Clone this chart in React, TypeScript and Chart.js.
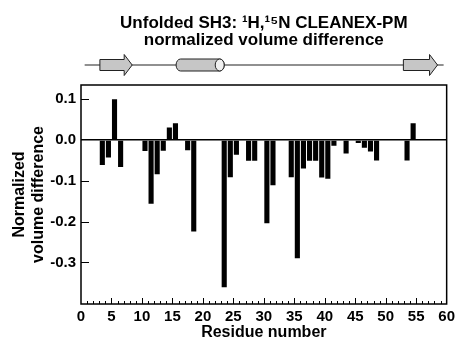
import React, { useEffect, useRef } from 'react';
import { Chart, registerables } from 'chart.js';

Chart.register(...registerables);

// ---- data ----
const residues = [3, 4, 5, 6, 10, 11, 12, 13, 14, 15, 17, 18, 23, 24, 25, 27, 28, 30, 31, 34, 35, 36, 37, 38, 39, 40, 41, 43, 45, 46, 47, 48, 53, 54];
const values = [-0.061, -0.043, 0.100, -0.066, -0.027, -0.156, -0.084, -0.026, 0.031, 0.041, -0.025, -0.224, -0.361, -0.091, -0.036, -0.051, -0.051, -0.204, -0.111, -0.091, -0.290, -0.070, -0.051, -0.051, -0.092, -0.095, -0.014, -0.033, -0.007, -0.019, -0.028, -0.050, -0.050, 0.041];
const xTickValues = [0, 5, 10, 15, 20, 25, 30, 35, 40, 45, 50, 55, 60];
const yTickValues = [-0.3, -0.2, -0.1, 0.0, 0.1];
const titleLines = ['Unfolded SH3: \u00B9H,\u00B9\u2075N CLEANEX-PM', 'normalized volume difference'];
const yTitleLines = ['Normalized', 'volume difference'];
const xTitle = 'Residue number';
// secondary structure cartoon (residue units)
const ssTypes = ['strand', 'helix', 'strand'];
const ssStart = [3.1, 15.6, 52.9];
const ssEnd = [8.4, 23.5, 58.5];
const ssLine = [0.6, 59.5];

const FONT = '"Liberation Sans", Arial, Helvetica, sans-serif';

const overlayPlugin = {
  id: 'overlay',
  afterDraw(chart: any) {
    const { ctx, chartArea, scales } = chart;
    const { left, right, top, bottom } = chartArea;
    const x = scales.x;
    const y = scales.y;
    ctx.save();
    // inward x ticks (minor every residue, major every 5)
    ctx.strokeStyle = '#000';
    ctx.lineWidth = 1;
    for (let v = 1; v < 60; v++) {
      const px = Math.round(x.getPixelForValue(v)) + 0.5;
      const len = v % 5 === 0 ? 6 : 3;
      ctx.beginPath();
      ctx.moveTo(px, bottom);
      ctx.lineTo(px, bottom - len);
      ctx.stroke();
    }
    // inward y ticks
    yTickValues.forEach((v) => {
      if (v === 0) return;
      const py = Math.round(y.getPixelForValue(v)) + 0.5;
      ctx.beginPath();
      ctx.moveTo(left, py);
      ctx.lineTo(left + 8, py);
      ctx.stroke();
    });
    // frame
    ctx.lineWidth = 1.5;
    ctx.strokeRect(left, top, right - left, bottom - top);

    // secondary structure cartoon
    const cy = top - 20;
    ctx.lineWidth = 1.2;
    ctx.strokeStyle = '#222';
    ctx.beginPath();
    ctx.moveTo(x.getPixelForValue(ssLine[0]), cy);
    ctx.lineTo(x.getPixelForValue(ssLine[1]), cy);
    ctx.stroke();
    ctx.fillStyle = '#c6c6c6';
    ctx.lineWidth = 1;
    ssTypes.forEach((t, i) => {
      const x1 = x.getPixelForValue(ssStart[i]);
      const x2 = x.getPixelForValue(ssEnd[i]);
      ctx.beginPath();
      if (t === 'strand') {
        const hx = x2 - 8;
        ctx.moveTo(x1, cy - 5.5);
        ctx.lineTo(hx, cy - 5.5);
        ctx.lineTo(hx, cy - 10.5);
        ctx.lineTo(x2, cy);
        ctx.lineTo(hx, cy + 10.5);
        ctx.lineTo(hx, cy + 5.5);
        ctx.lineTo(x1, cy + 5.5);
        ctx.closePath();
        ctx.fill();
        ctx.stroke();
      } else {
        const h = 6;
        const er = 4.5;
        ctx.moveTo(x1 + er, cy - h);
        ctx.lineTo(x2 - er, cy - h);
        ctx.ellipse(x2 - er, cy, er, h, 0, -Math.PI / 2, Math.PI / 2);
        ctx.lineTo(x1 + er, cy + h);
        ctx.ellipse(x1 + er, cy, er, h, 0, Math.PI / 2, Math.PI * 1.5);
        ctx.closePath();
        ctx.fill();
        ctx.stroke();
        ctx.beginPath();
        ctx.fillStyle = '#f0f0f0';
        ctx.ellipse(x2 - er, cy, er, h, 0, 0, Math.PI * 2);
        ctx.fill();
        ctx.stroke();
        ctx.fillStyle = '#c6c6c6';
      }
    });
    ctx.restore();
  },
};

export default function App() {
  const ref = useRef<HTMLCanvasElement>(null);
  useEffect(() => {
    document.body.style.margin = '0';
    const canvas = ref.current;
    if (!canvas) return;
    const chart = new Chart(canvas, {
      type: 'bar',
      data: {
        datasets: [
          {
            data: residues.map((r, i) => ({ x: r + 0.5, y: values[i] })),
            backgroundColor: '#000',
            borderWidth: 0,
            barPercentage: 0.84,
            categoryPercentage: 1,
          } as any,
        ],
      },
      options: {
        animation: false,
        responsive: false,
        maintainAspectRatio: false,
        layout: { padding: { left: 0, right: 8, top: 0, bottom: 0 } },
        plugins: {
          legend: { display: false },
          tooltip: { enabled: false },
          title: {
            display: true,
            fullSize: false,
            text: titleLines,
            color: '#000',
            font: { family: FONT, size: 17, weight: 'bold', lineHeight: 1.0 },
            padding: { top: 14.8, bottom: 36.2 },
          },
        },
        scales: {
          x: {
            type: 'linear',
            min: 0,
            max: 60,
            offset: false,
            afterBuildTicks: (s: any) => {
              s.ticks = xTickValues.map((v) => ({ value: v }));
            },
            afterFit: (s: any) => {
              s.height = 35;
            },
            ticks: {
              color: '#000',
              font: { family: FONT, size: 15, weight: 'bold' },
              padding: 4,
              maxRotation: 0,
              autoSkip: false,
            },
            grid: { display: false, drawTicks: false },
            border: { display: false },
            title: {
              display: true,
              text: xTitle,
              color: '#000',
              font: { family: FONT, size: 16, weight: 'bold', lineHeight: 1.0 },
              padding: { top: 0, bottom: -2 },
            },
          },
          y: {
            type: 'linear',
            min: -0.402,
            max: 0.135,
            afterBuildTicks: (s: any) => {
              s.ticks = yTickValues.map((v) => ({ value: v }));
            },
            afterFit: (s: any) => {
              s.width = 81;
            },
            ticks: {
              color: '#000',
              font: { family: FONT, size: 15, weight: 'bold' },
              padding: 5,
              callback: (v: any) => Number(v).toFixed(1),
            },
            grid: {
              drawTicks: false,
              color: (c: any) => (c.tick && Math.abs(c.tick.value) < 1e-9 ? '#000' : 'rgba(0,0,0,0)'),
              lineWidth: 1.5,
            },
            border: { display: false },
            title: {
              display: true,
              text: yTitleLines,
              color: '#000',
              font: { family: FONT, size: 16, weight: 'bold', lineHeight: 1.15 },
              padding: { top: 10.8, bottom: 0 },
            },
          },
        },
      } as any,
      plugins: [overlayPlugin],
    });
    return () => chart.destroy();
  }, []);
  return (
    <div style={{ position: 'absolute', left: 0, top: 0, width: 459, height: 339 }}>
      <canvas ref={ref} width={459} height={339} style={{ width: 459, height: 339, display: 'block' }} />
    </div>
  );
}
